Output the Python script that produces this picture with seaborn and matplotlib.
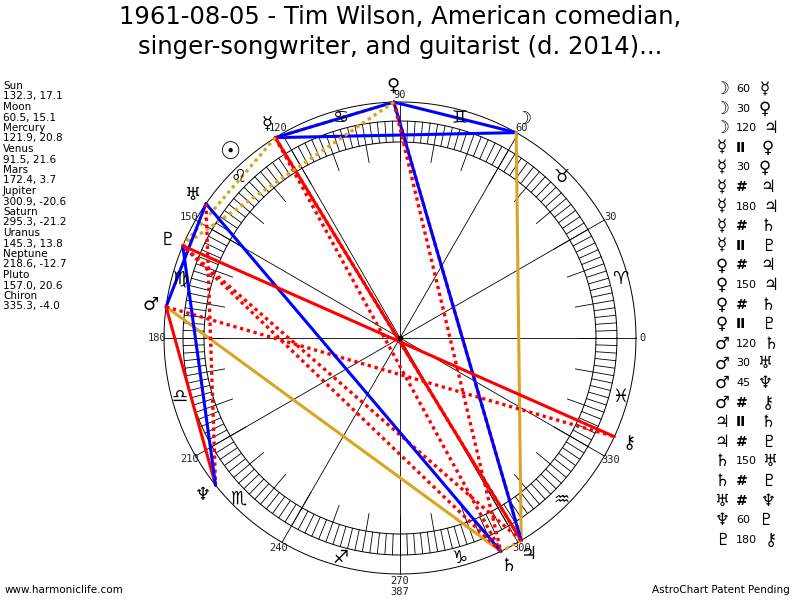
import numpy as np
import pandas as pd
import matplotlib
matplotlib.use("Agg")
import matplotlib.pyplot as plt
import seaborn as sns

# chart data
title = "1961-08-05 - Tim Wilson, American comedian,\nsinger-songwriter, and guitarist (d. 2014)..."
planets = ['Sun', 'Moon', 'Mercury', 'Venus', 'Mars', 'Jupiter', 'Saturn',
           'Uranus', 'Neptune', 'Pluto', 'Chiron']
glyphs = ['☉', '☽', '☿', '♀', '♂', '♃', '♄', '♅', '♆', '♇', '⚷']
longitude = [132.3, 60.5, 121.9, 91.5, 172.4, 300.9, 295.3, 145.3, 218.6, 157.0, 335.3]
declination = [17.1, 15.1, 20.8, 21.6, 3.7, -20.6, -21.2, 13.8, -12.7, 20.6, -4.0]

asp_from = ['Moon', 'Moon', 'Moon', 'Mercury', 'Mercury', 'Mercury', 'Mercury', 'Mercury',
            'Mercury', 'Venus', 'Venus', 'Venus', 'Venus', 'Mars', 'Mars', 'Mars', 'Mars',
            'Jupiter', 'Jupiter', 'Saturn', 'Saturn', 'Uranus', 'Neptune', 'Pluto']
asp_kind = ['60', '30', '120', 'II', '30', '#', '180', '#', 'II', '#', '150', '#', 'II',
            '120', '30', '45', '#', 'II', '#', '150', '#', '#', '60', '180']
asp_to = ['Mercury', 'Venus', 'Jupiter', 'Venus', 'Venus', 'Jupiter', 'Jupiter', 'Saturn',
          'Pluto', 'Jupiter', 'Jupiter', 'Saturn', 'Pluto', 'Saturn', 'Uranus', 'Neptune',
          'Chiron', 'Saturn', 'Pluto', 'Uranus', 'Pluto', 'Neptune', 'Pluto', 'Chiron']

signs = ['♈', '♉', '♊', '♋', '♌', '♍', '♎', '♏', '♐', '♑', '♒', '♓']
degree_marks = [0, 30, 60, 90, 120, 150, 180, 210, 240, 270, 300, 330]

kind_color = {'30': 'blue', '60': 'blue', '150': 'blue', '120': 'goldenrod',
              '180': 'red', '45': 'red', 'II': 'goldenrod', '#': 'red'}

sns.set_theme(style="white")
plt.rcParams['font.family'] = ['DejaVu Sans', 'Noto Sans']
plt.rcParams['text.color'] = 'black'

cx, cy = 400, 338
R_OUT, R_B1, R_B2 = 236, 196, 217


def pos(deg, r):
    a = np.radians(deg)
    return cx + r * np.cos(a), cy - r * np.sin(a)


fig = plt.figure(figsize=(8, 6), dpi=100)
ax = fig.add_axes([0, 0, 1, 1])
ax.set_xlim(0, 800)
ax.set_ylim(600, 0)
ax.axis('off')

# wheel
t = np.linspace(0, 360, 721)
for r in (R_OUT, R_B1, R_B2):
    x, y = pos(t, r)
    ax.plot(x, y, color='black', lw=0.7)
for d in range(0, 360, 2):
    r0 = 178 if d % 10 == 0 else R_B1
    x, y = pos(np.array([d, d]), np.array([r0, R_B2]))
    ax.plot(x, y, color='black', lw=0.6)
for d in degree_marks:
    x, y = pos(np.array([d, d]), np.array([0, R_OUT]))
    ax.plot(x, y, color='black', lw=0.6)
    lx, ly = pos(d, 243)
    ax.text(lx, ly, str(d), ha='center', va='center', fontsize=7.5,
            family='DejaVu Sans Mono', color='#222222')
ax.text(400, 592, '387', ha='center', va='center', fontsize=7.5,
        family='DejaVu Sans Mono', color='#222222')

for i, s in enumerate(signs):
    sx, sy = pos(15 + 30 * i, 228)
    ax.text(sx, sy, s, ha='center', va='center', fontsize=13, color='black')

# aspect lines
lon = dict(zip(planets, longitude))
rows = []
for a, k, b in zip(asp_from, asp_kind, asp_to):
    x1, y1 = pos(lon[a], R_OUT)
    x2, y2 = pos(lon[b], R_OUT)
    rows.append(dict(aspect=f'{a}-{k}-{b}', kind=k, x=x1, y=y1))
    rows.append(dict(aspect=f'{a}-{k}-{b}', kind=k, x=x2, y=y2))
df = pd.DataFrame(rows)

for name, g in df.groupby('aspect', sort=False):
    k = g['kind'].iloc[0]
    if k in ('II', '#'):
        sns.lineplot(data=g, x='x', y='y', sort=False, estimator=None, ax=ax,
                     color=kind_color[k], lw=2.4, linestyle=(0, (1, 1.1)))
    else:
        sns.lineplot(data=g, x='x', y='y', sort=False, estimator=None, ax=ax,
                     color=kind_color[k], lw=2.2)

ax.plot([cx], [cy], 'o', color='black', ms=3)

# planet glyphs
for p, gl, l in zip(planets, glyphs, longitude):
    gx, gy = pos(l, 252)
    if p == 'Sun':
        ax.text(gx, gy, gl, ha='center', va='center', fontsize=17,
                fontweight='bold', color='black')
    else:
        ax.text(gx, gy, gl, ha='center', va='center', fontsize=13, color='black')

# title
fig.text(0.5, 1 - 17 / 600, title.split('\n')[0], ha='center', va='center', fontsize=17.5)
fig.text(0.5, 1 - 47 / 600, title.split('\n')[1], ha='center', va='center', fontsize=17.5)

# left list
for i, (p, l, d) in enumerate(zip(planets, longitude, declination)):
    y0 = 86 + i * 21
    ax.text(3, y0, p, ha='left', va='center', fontsize=7.5)
    ax.text(3, y0 + 10.5, f'{l:.1f}, {d:.1f}', ha='left', va='center', fontsize=7.5)

# right list
gmap = dict(zip(planets, glyphs))
for i, (a, k, b) in enumerate(zip(asp_from, asp_kind, asp_to)):
    y0 = 89 + i * 19.6
    ax.text(722, y0, gmap[a], ha='center', va='center', fontsize=12)
    if k in ('II', '#'):
        ax.text(736, y0, k, ha='left', va='center', fontsize=10, fontweight='bold')
        x2 = 768
    else:
        ax.text(736, y0, k, ha='left', va='center', fontsize=8)
        x2 = 754 + 5.5 * len(k)
    ax.text(x2, y0, gmap[b], ha='center', va='center', fontsize=12)

fig.text(5 / 800, 1 - 590 / 600, 'www.harmoniclife.com', ha='left', va='center', fontsize=7.5)
fig.text(790 / 800, 1 - 590 / 600, 'AstroChart Patent Pending', ha='right', va='center',
         fontsize=7.5)

fig.savefig('out.png', dpi=100)
